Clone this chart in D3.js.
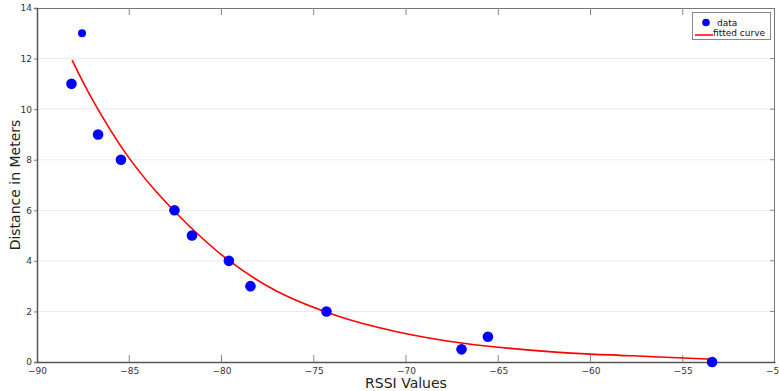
<!DOCTYPE html>
<html>
<head>
<meta charset="utf-8">
<script src="https://cdn.jsdelivr.net/npm/d3@7/dist/d3.min.js"></script>
<style>
  body { margin: 0; background: #fff; }
  svg text { font-family: "DejaVu Sans", Verdana, sans-serif; }
</style>
</head>
<body>
<div id="chart"></div>
<script>
// data
const rssi = [-88.13, -87.56, -86.69, -85.45, -82.55, -81.6, -79.6, -78.43, -74.31, -66.99, -65.56, -53.41];
const distance = [11, 13, 9, 8, 6, 5, 4, 3, 2, 0.5, 1, 0];
const curveX = [-88.1, -86.95, -85.14, -83.5, -81.71, -79.63, -77, -73.58, -70.5, -66.89, -63.28, -60.21, -56.6, -53.34];
const curveY = [11.94, 10.32, 8.2, 6.7, 5.35, 4.03, 2.8, 1.79, 1.2, 0.74, 0.47, 0.32, 0.21, 0.11];
const xTicks = [-90, -85, -80, -75, -70, -65, -60, -55, -50];
const yTicks = [0, 2, 4, 6, 8, 10, 12, 14];

const width = 779;
const height = 391;
const padLeft = 37, padRight = 775, padTop = 8, padBottom = 362;

const xScale = d3.scaleLinear().domain([-90, -50]).range([padLeft, padRight]);
const yScale = d3.scaleLinear().domain([0, 14]).range([padBottom, padTop]);

const svg = d3.select('#chart').append('svg')
    .attr('width', width)
    .attr('height', height);

// gridlines
svg.append('g')
    .selectAll('line')
    .data(yTicks.filter(d => d > 0 && d < 14))
    .enter()
    .append('line')
    .attr('x1', padLeft).attr('x2', padRight)
    .attr('y1', d => yScale(d)).attr('y2', d => yScale(d))
    .attr('stroke', '#ebebeb')
    .attr('stroke-width', 1);

// frame top / right
svg.append('line')
    .attr('x1', padLeft).attr('x2', padRight).attr('y1', padTop + 0.5).attr('y2', padTop + 0.5)
    .attr('stroke', '#777');
svg.append('line')
    .attr('x1', padRight - 0.5).attr('x2', padRight - 0.5).attr('y1', padTop).attr('y2', padBottom)
    .attr('stroke', '#777');

// axes
const xAxis = d3.axisBottom(xScale).tickValues(xTicks).tickSize(0).tickPadding(6)
    .tickFormat(d3.format('d'));
const gx = svg.append('g')
    .attr('transform', `translate(0,${padBottom})`)
    .call(xAxis);
gx.select('.domain').attr('stroke', '#555').attr('stroke-width', 1.5);
gx.selectAll('text').attr('font-size', 9).attr('fill', '#333');

const yAxis = d3.axisLeft(yScale).tickValues(yTicks).tickSize(3).tickPadding(2)
    .tickFormat(d3.format('d'));
const gy = svg.append('g')
    .attr('transform', `translate(${padLeft},0)`)
    .call(yAxis);
gy.select('.domain').attr('stroke', '#555').attr('stroke-width', 1.5);
gy.selectAll('.tick line').attr('stroke', '#777');
gy.selectAll('text').attr('font-size', 9).attr('fill', '#333');

// inward tick marks on bottom / top / right
const inTicks = svg.append('g').attr('stroke', '#888').attr('stroke-width', 1);
xTicks.slice(1, -1).forEach(t => {
    inTicks.append('line')
        .attr('x1', xScale(t)).attr('x2', xScale(t))
        .attr('y1', padBottom).attr('y2', padBottom - 7);
    inTicks.append('line')
        .attr('x1', xScale(t)).attr('x2', xScale(t))
        .attr('y1', padTop).attr('y2', padTop + 7);
});
yTicks.slice(1, -1).forEach(t => {
    inTicks.append('line')
        .attr('x1', padRight).attr('x2', padRight - 5)
        .attr('y1', yScale(t)).attr('y2', yScale(t));
});

// axis titles
svg.append('text')
    .attr('x', 406).attr('y', 388)
    .attr('text-anchor', 'middle')
    .attr('font-size', 14)
    .attr('fill', '#222')
    .text('RSSI Values');
svg.append('text')
    .attr('transform', `translate(20,${(padTop + padBottom) / 2}) rotate(-90)`)
    .attr('text-anchor', 'middle')
    .attr('font-size', 14)
    .attr('fill', '#222')
    .text('Distance in Meters');

// fitted curve
const curveData = curveX.map((x, i) => ({ x, y: curveY[i] }));
svg.append('path')
    .datum(curveData)
    .attr('fill', 'none')
    .attr('stroke', '#ff0000')
    .attr('stroke-width', 1.6)
    .attr('d', d3.line().x(d => xScale(d.x)).y(d => yScale(d.y)).curve(d3.curveCatmullRom));

// data points
const points = rssi.map((x, i) => ({ x, y: distance[i] }));
svg.append('g')
    .selectAll('circle')
    .data(points)
    .enter()
    .append('circle')
    .attr('cx', d => xScale(d.x))
    .attr('cy', d => yScale(d.y))
    .attr('r', (d, i) => i === 1 ? 4 : 5.3)
    .attr('fill', '#0000ff');

// legend
const legend = svg.append('g');
legend.append('rect')
    .attr('x', 692.5).attr('y', 12.5)
    .attr('width', 78).attr('height', 27)
    .attr('fill', '#fff')
    .attr('stroke', '#888');
legend.append('circle')
    .attr('cx', 706).attr('cy', 22.5).attr('r', 3.8).attr('fill', '#0000ff');
legend.append('text')
    .attr('x', 717).attr('y', 26).attr('font-size', 9).attr('fill', '#111')
    .text('data');
legend.append('line')
    .attr('x1', 695).attr('x2', 713).attr('y1', 35).attr('y2', 35)
    .attr('stroke', '#ff0000').attr('stroke-width', 1.5);
legend.append('text')
    .attr('x', 713).attr('y', 36).attr('font-size', 9).attr('fill', '#111')
    .text('fitted curve');
</script>
</body>
</html>
